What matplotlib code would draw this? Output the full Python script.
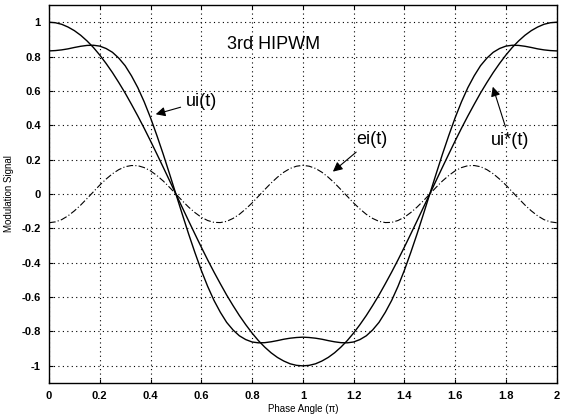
import matplotlib
matplotlib.use("Agg")
import matplotlib.pyplot as plt

phase = [0.000, 0.025, 0.050, 0.075, 0.100, 0.125, 0.150, 0.175, 0.200, 0.225,
         0.250, 0.275, 0.300, 0.325, 0.350, 0.375, 0.400, 0.425, 0.450, 0.475,
         0.500, 0.525, 0.550, 0.575, 0.600, 0.625, 0.650, 0.675, 0.700, 0.725,
         0.750, 0.775, 0.800, 0.825, 0.850, 0.875, 0.900, 0.925, 0.950, 0.975,
         1.000, 1.025, 1.050, 1.075, 1.100, 1.125, 1.150, 1.175, 1.200, 1.225,
         1.250, 1.275, 1.300, 1.325, 1.350, 1.375, 1.400, 1.425, 1.450, 1.475,
         1.500, 1.525, 1.550, 1.575, 1.600, 1.625, 1.650, 1.675, 1.700, 1.725,
         1.750, 1.775, 1.800, 1.825, 1.850, 1.875, 1.900, 1.925, 1.950, 1.975,
         2.000]

ui_star = [1.000, 0.997, 0.988, 0.972, 0.951, 0.924, 0.891, 0.853, 0.809, 0.760,
           0.707, 0.649, 0.588, 0.522, 0.454, 0.383, 0.309, 0.233, 0.156, 0.078,
           0.000, -0.078, -0.156, -0.233, -0.309, -0.383, -0.454, -0.522, -0.588, -0.649,
           -0.707, -0.760, -0.809, -0.853, -0.891, -0.924, -0.951, -0.972, -0.988, -0.997,
           -1.000, -0.997, -0.988, -0.972, -0.951, -0.924, -0.891, -0.853, -0.809, -0.760,
           -0.707, -0.649, -0.588, -0.522, -0.454, -0.383, -0.309, -0.233, -0.156, -0.078,
           0.000, 0.078, 0.156, 0.233, 0.309, 0.383, 0.454, 0.522, 0.588, 0.649,
           0.707, 0.760, 0.809, 0.853, 0.891, 0.924, 0.951, 0.972, 0.988, 0.997,
           1.000]

ei = [-0.167, -0.162, -0.149, -0.127, -0.098, -0.064, -0.026, 0.013, 0.052, 0.087,
      0.118, 0.142, 0.159, 0.166, 0.165, 0.154, 0.135, 0.108, 0.076, 0.039,
      0.000, -0.039, -0.076, -0.108, -0.135, -0.154, -0.165, -0.166, -0.159, -0.142,
      -0.118, -0.087, -0.052, -0.013, 0.026, 0.064, 0.098, 0.127, 0.149, 0.162,
      0.167, 0.162, 0.149, 0.127, 0.098, 0.064, 0.026, -0.013, -0.052, -0.087,
      -0.118, -0.142, -0.159, -0.166, -0.165, -0.154, -0.135, -0.108, -0.076, -0.039,
      0.000, 0.039, 0.076, 0.108, 0.135, 0.154, 0.165, 0.166, 0.159, 0.142,
      0.118, 0.087, 0.052, 0.013, -0.026, -0.064, -0.098, -0.127, -0.149, -0.162,
      -0.167]

ui = [0.833, 0.835, 0.839, 0.845, 0.853, 0.860, 0.865, 0.866, 0.861, 0.847,
      0.825, 0.791, 0.747, 0.688, 0.619, 0.537, 0.444, 0.341, 0.232, 0.117,
      0.000, -0.117, -0.232, -0.341, -0.444, -0.537, -0.619, -0.688, -0.747, -0.791,
      -0.825, -0.847, -0.861, -0.866, -0.865, -0.860, -0.853, -0.845, -0.839, -0.835,
      -0.833, -0.835, -0.839, -0.845, -0.853, -0.860, -0.865, -0.866, -0.861, -0.847,
      -0.825, -0.791, -0.747, -0.688, -0.619, -0.537, -0.444, -0.341, -0.232, -0.117,
      0.000, 0.117, 0.232, 0.341, 0.444, 0.537, 0.619, 0.688, 0.747, 0.791,
      0.825, 0.847, 0.861, 0.866, 0.865, 0.860, 0.853, 0.845, 0.839, 0.835,
      0.833]

xticks = [0, 0.2, 0.4, 0.6, 0.8, 1, 1.2, 1.4, 1.6, 1.8, 2]
xticklabels = ["0", "0.2", "0.4", "0.6", "0.8", "1", "1.2", "1.4", "1.6", "1.8", "2"]
yticks = [-1, -0.8, -0.6, -0.4, -0.2, 0, 0.2, 0.4, 0.6, 0.8, 1]
yticklabels = ["-1", "-0.8", "-0.6", "-0.4", "-0.2", "0",
               "0.2", "0.4", "0.6", "0.8", "1"]

plt.rcParams['font.family'] = ['Liberation Sans', 'DejaVu Sans']

fig = plt.figure(figsize=(5.61, 4.2), dpi=100)
ax = fig.add_axes([0.0873, 0.088, 0.905, 0.900])

ax.plot(phase, ui_star, color='black', lw=1.0)
ax.plot(phase, ui, color='black', lw=1.0)
ax.plot(phase, ei, color='black', lw=0.8, linestyle=(0, (6, 2, 1, 2)))

ax.set_xlim(0, 2)
ax.set_ylim(-1.1, 1.1)
ax.set_xticks(xticks)
ax.set_xticklabels(xticklabels)
ax.set_yticks(yticks)
ax.set_yticklabels(yticklabels)
ax.tick_params(direction='in', top=True, right=True, length=3, labelsize=8, pad=6)
for lab in ax.get_xticklabels() + ax.get_yticklabels():
    lab.set_fontweight('bold')
ax.grid(True, color='black', linestyle=(0, (1, 3)), lw=0.8)
for s in ax.spines.values():
    s.set_linewidth(1.0)

ax.set_xlabel("Phase Angle (\u03c0)", fontsize=7, labelpad=2)
ax.set_ylabel("Modulation Signal", fontsize=7)
ax.yaxis.set_label_coords(-0.068, 0.5)

ax.text(0.70, 0.87, "3rd HIPWM", fontsize=13, va='center', ha='left')

arrowprops = dict(arrowstyle='-|>', color='black', lw=0.8, mutation_scale=14)
ax.annotate("ui(t)", xy=(0.41, 0.46), xytext=(0.54, 0.54), fontsize=13,
            va='center', ha='left', arrowprops=arrowprops)
ax.annotate("ei(t)", xy=(1.11, 0.12), xytext=(1.21, 0.32), fontsize=13,
            va='center', ha='left', arrowprops=arrowprops)
ax.annotate("ui*(t)", xy=(1.745, 0.64), xytext=(1.74, 0.31), fontsize=13,
            va='center', ha='left', arrowprops=arrowprops)

fig.savefig("out.png", dpi=100)
